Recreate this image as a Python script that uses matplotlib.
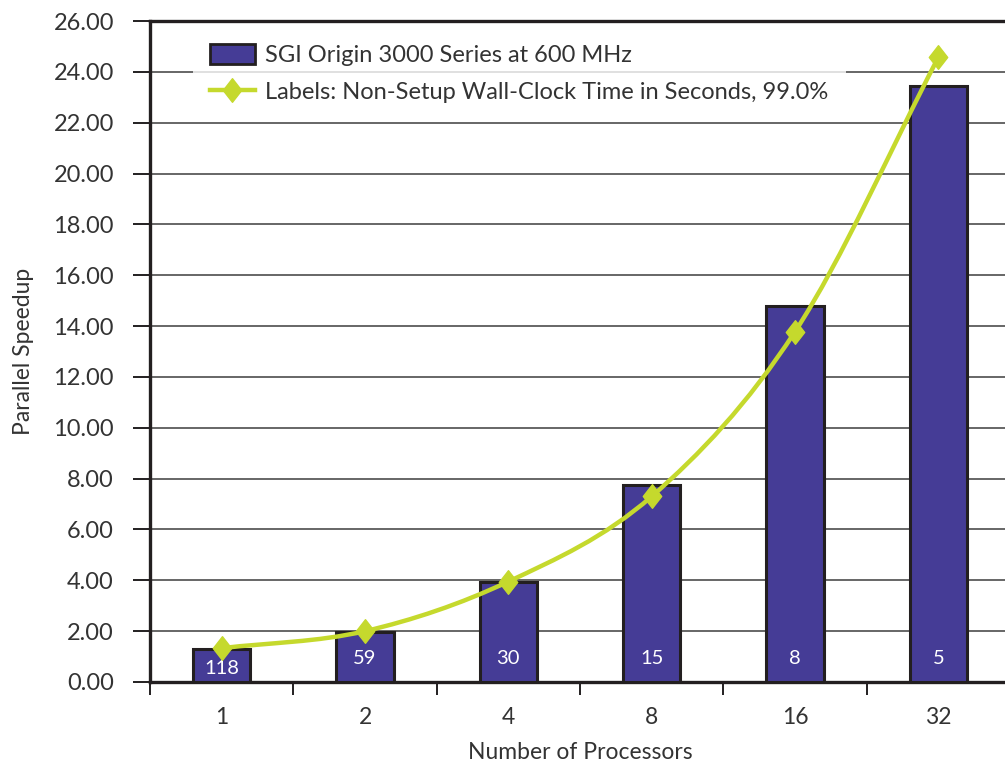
import matplotlib
matplotlib.use("Agg")
import matplotlib.pyplot as plt
from matplotlib.path import Path
from matplotlib.patches import PathPatch
from matplotlib.lines import Line2D
from matplotlib.patches import Patch
import numpy as np

plt.rcParams['font.family'] = ['Lato', 'DejaVu Sans']

# Data
processors = ["1", "2", "4", "8", "16", "32"]
speedup = [1.28, 1.98, 3.92, 7.76, 14.8, 23.46]
amdahl_curve = [1.33, 2.0, 3.95, 7.30, 13.78, 24.57]
wall_clock = ["118", "59", "30", "15", "8", "5"]
y_ticks = [0, 2, 4, 6, 8, 10, 12, 14, 16, 18, 20, 22, 24, 26]

bar_color = "#453C96"
edge_color = "#231F20"
line_color = "#C5D92D"
text_color = "#333333"
grid_color = "#666666"

fig = plt.figure(figsize=(10.05, 7.68), dpi=100)
W, H = 1005, 768
ax = fig.add_axes([150 / W, 1 - 682 / H, 860 / W, (682 - 21) / H])

x = np.arange(len(processors))

# Bars
ax.bar(x, speedup, width=0.40, color=bar_color, edgecolor=edge_color,
       linewidth=2.2, zorder=3)

# Wall-clock labels inside the bars
for xi, h, lab in zip(x, speedup, wall_clock):
    ax.text(xi, min(0.94, h - 0.73), lab, color="white", fontsize=14.5,
            ha="center", va="center", zorder=4)

# Smooth curve through the speedup points (Catmull-Rom as cubic Bezier)
pts = np.column_stack([x, amdahl_curve]).astype(float)
n = len(pts)
tang = np.zeros_like(pts)
for i in range(n):
    if i == 0:
        tang[i] = pts[1] - pts[0]
    elif i == n - 1:
        tang[i] = pts[-1] - pts[-2]
    else:
        tang[i] = (pts[i + 1] - pts[i - 1]) / 2
verts = [tuple(pts[0])]
codes = [Path.MOVETO]
for i in range(n - 1):
    verts += [tuple(pts[i] + tang[i] / 3), tuple(pts[i + 1] - tang[i + 1] / 3),
              tuple(pts[i + 1])]
    codes += [Path.CURVE4] * 3
ax.add_patch(PathPatch(Path(verts, codes), facecolor="none",
                       edgecolor=line_color, linewidth=3.2, zorder=5,
                       capstyle="round", joinstyle="round"))

diamond = Path([(0, 1), (0.78, 0), (0, -1), (-0.78, 0), (0, 1)],
               [Path.MOVETO, Path.LINETO, Path.LINETO, Path.LINETO, Path.CLOSEPOLY])
ax.plot(x, amdahl_curve, linestyle="none", marker=diamond, markersize=17,
        color=line_color, zorder=6)

# Axes styling
ax.set_xlim(-0.5, len(processors) - 0.5)
ax.set_ylim(0, 26)
ax.set_yticks(y_ticks)
ax.set_yticklabels([f"{v:.2f}" for v in y_ticks])
ax.yaxis.grid(True, color=grid_color, linewidth=1.4, zorder=0)
ax.set_axisbelow(True)

ax.set_xticks(np.arange(-0.5, len(processors), 1.0))
ax.set_xticklabels([])
ax.set_xticks(x, minor=True)
ax.set_xticklabels(processors, minor=True)
ax.tick_params(axis="x", which="major", direction="out", length=9,
               width=1.4, color=edge_color)
ax.tick_params(axis="x", which="minor", length=0, pad=18,
               labelsize=16.5, labelcolor=text_color)
ax.tick_params(axis="y", direction="out", length=12, width=1.4,
               color=edge_color, labelsize=17, labelcolor=text_color, pad=14)

for side in ("left", "bottom", "top"):
    ax.spines[side].set_color(edge_color)
    ax.spines[side].set_linewidth(2.4)
ax.spines["right"].set_visible(False)

ax.set_xlabel("Number of Processors", fontsize=16.5, color=text_color,
              labelpad=10)
ax.set_ylabel("Parallel Speedup", fontsize=16.5, color=text_color, labelpad=14)

# Legend
handles = [
    Patch(facecolor=bar_color, edgecolor=edge_color, linewidth=2),
    Line2D([0], [0], color=line_color, linewidth=3.2, marker=diamond,
           markersize=17),
]
labels = ["SGI Origin 3000 Series at 600 MHz",
          "Labels: Non-Setup Wall-Clock Time in Seconds, 99.0%"]
leg = ax.legend(handles, labels, loc="upper left",
                bbox_to_anchor=(193 / W, 1 - 27 / H),
                bbox_transform=fig.transFigure, frameon=True, fontsize=17,
                handlelength=1.9, handleheight=0.9, handletextpad=0.45,
                labelspacing=0.65, borderpad=0.72, borderaxespad=0,
                fancybox=False, labelcolor=text_color)
leg.get_frame().set_facecolor("white")
leg.get_frame().set_edgecolor("none")
leg.set_zorder(10)

fig.savefig("out.png", dpi=100)
